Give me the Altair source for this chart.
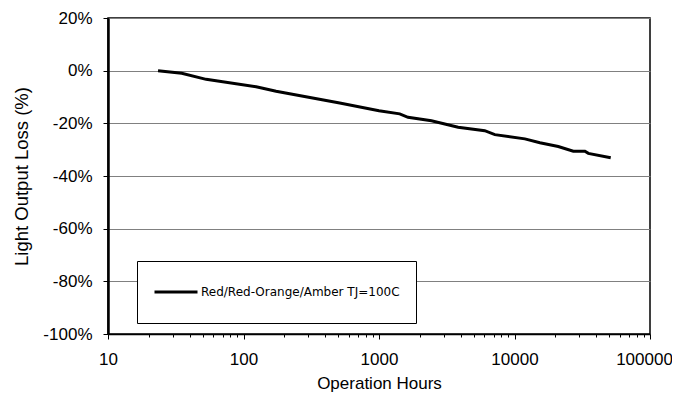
import altair as alt
import pandas as pd

# Data
hours = [23.4, 35, 53, 124, 174, 513, 1000, 1422, 1637, 2438, 3837, 6030, 7160,
         11930, 15400, 21040, 27150, 33100, 35060, 51300]
loss_pct = [0.0, -1.0, -3.3, -6.1, -7.8, -12.3, -15.2, -16.4, -17.7, -19.0, -21.5,
            -22.8, -24.3, -25.9, -27.4, -28.8, -30.6, -30.6, -31.4, -33.1]
series_name = "Red/Red-Orange/Amber TJ=100C"

x_major = [10, 100, 1000, 10000, 100000]
x_ticks = [m * k for m in [10, 100, 1000, 10000] for k in range(1, 10)] + [100000]
y_ticks = [-100, -80, -60, -40, -20, 0, 20]

df = pd.DataFrame({"hours": hours, "loss": loss_pct, "series": [series_name] * len(hours)})

major_test = "indexof([" + ",".join(str(v) for v in x_major) + "], datum.value) >= 0"

chart = alt.Chart(df).mark_line(strokeWidth=3, color="black").encode(
    x=alt.X("hours:Q",
            scale=alt.Scale(type="log", domain=[10, 100000], nice=False),
            axis=alt.Axis(values=x_ticks, title="Operation Hours",
                          labelExpr=major_test + " ? datum.value : ''",
                          labelOverlap=False, labelFlush=False,
                          tickSize={"condition": {"test": major_test, "value": 5}, "value": 3},
                          labelOffset={"condition": {"test": "datum.value == 100000", "value": -6}, "value": 0},
                          labelFontSize=17, titleFontSize=17,
                          labelPadding=12, titlePadding=8, grid=False,
                          domainColor="black", domainWidth=1.5,
                          tickColor="black", tickWidth=1)),
    y=alt.Y("loss:Q",
            scale=alt.Scale(domain=[-100, 20], nice=False),
            axis=alt.Axis(values=y_ticks, title="Light Output Loss (%)",
                          labelExpr="datum.value + '%'",
                          labelFontSize=17, titleFontSize=18.5,
                          tickSize=5, labelPadding=11, titlePadding=11,
                          grid=True, gridColor="#808080", gridWidth=1,
                          domainColor="black", domainWidth=2.5,
                          tickColor="black", tickWidth=1)),
    color=alt.Color("series:N", scale=alt.Scale(range=["black"]),
                    legend=alt.Legend(title=None, orient="none", legendX=29, legendY=243,
                                      symbolType="stroke", symbolSize=1849,
                                      symbolStrokeWidth=3, labelOffset=2,
                                      labelFont="DejaVu Sans", labelFontSize=12,
                                      labelColor="black", labelLimit=400,
                                      padding=16, clipHeight=30,
                                      fillColor="white", strokeColor="black")),
).properties(
    width=542, height=316,
    autosize=alt.AutoSizeParams(type="none"),
    padding={"left": 100, "top": 10, "right": 22, "bottom": 62},
).configure_view(
    stroke="black", strokeWidth=1.5
).configure_axis(
    labelFont="Liberation Sans", labelColor="black",
    titleFont="Liberation Sans", titleFontWeight="normal",
    titleColor="black"
)

chart.save("out.html", embed_options={"renderer": "svg", "actions": False})
